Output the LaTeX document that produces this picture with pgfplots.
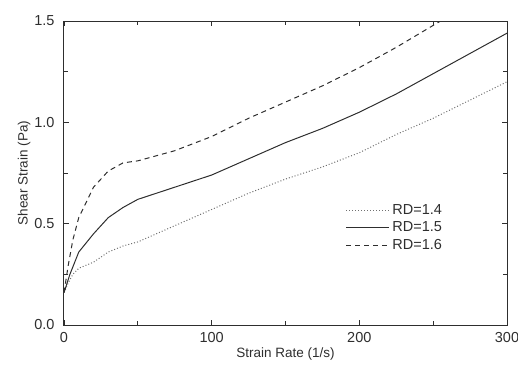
\documentclass[border=0pt]{standalone}
\usepackage{fontspec}
\setmainfont{Liberation Sans}
\usepackage{pgfplots}
\pgfplotsset{compat=1.18}
\definecolor{ink}{HTML}{2E2E2E}
\definecolor{dotink}{HTML}{707070}
\newcommand{\legfont}{\fontsize{14.5}{17}\selectfont}
\begin{document}
\begin{tikzpicture}
% page frame: axis box plus room for labels
\useasboundingbox (-64pt,-40pt) rectangle (454pt,325pt);
\begin{axis}[
  name=ax,
  scale only axis,
  width=443pt, height=304pt,
  xmin=0, xmax=300, ymin=0, ymax=1.5,
  xtick={0,100,200,300},
  ytick={0,0.5,1.0,1.5},
  minor xtick={50,150,250},
  minor ytick={0.25,0.75,1.25},
  tick align=inside,
  major tick length=5pt, minor tick length=4pt,
  tick style={ink, line width=0.8pt},
  axis line style={ink, line width=1pt},
  /pgf/number format/assume math mode=true,
  yticklabel style={/pgf/number format/fixed, /pgf/number format/fixed zerofill,
    /pgf/number format/precision=1, xshift=-6pt},
  xticklabel style={/pgf/number format/fixed, yshift=-4pt},
  ticklabel style={font=\fontsize{14.5}{16}\selectfont, text=ink},
  label style={font=\fontsize{13.5}{15}\selectfont, text=ink},
  xlabel={Strain Rate (1/s)},
  ylabel={Shear Strain (Pa)},
  xlabel style={yshift=2pt},
  ylabel style={yshift=-3pt},
  legend style={draw=none, fill=none, at={(0.629,0.32)}, anchor=west,
    font=\legfont, nodes={font=\legfont, text=ink, inner sep=2.5pt},
    row sep=1pt},
  legend cell align=left,
  legend image code/.code={\draw[#1] (0pt,0pt) -- (38pt,0pt);
    \path (0pt,0pt) -- (43pt,0pt);},
  clip=true,
]
% RD = 1.4
\addplot[dotink, line width=1pt, dotted] coordinates {
  (0,0.16) (3,0.21) (6,0.25) (10,0.28) (20,0.31) (30,0.36) (40,0.39)
  (50,0.41) (75,0.49) (100,0.57) (125,0.65) (150,0.72) (175,0.78)
  (200,0.85) (225,0.94) (250,1.02) (275,1.11) (300,1.20)};
\addlegendentry{RD=1.4}
% RD = 1.5
\addplot[ink, line width=1pt] coordinates {
  (0,0.16) (4,0.25) (10,0.36) (20,0.45) (30,0.53) (40,0.58) (50,0.62)
  (75,0.68) (100,0.74) (125,0.82) (150,0.90) (175,0.97) (200,1.05)
  (225,1.14) (250,1.24) (275,1.34) (300,1.44)};
\addlegendentry{RD=1.5}
% RD = 1.6
\addplot[ink, line width=1pt, dash pattern=on 5pt off 4pt] coordinates {
  (0,0.16) (3,0.30) (6,0.42) (10,0.53) (20,0.68) (30,0.76) (40,0.80)
  (50,0.81) (75,0.86) (100,0.93) (125,1.02) (150,1.10) (175,1.18)
  (200,1.27) (225,1.37) (255,1.50)};
\addlegendentry{RD=1.6}
\end{axis}
\end{tikzpicture}
\end{document}
